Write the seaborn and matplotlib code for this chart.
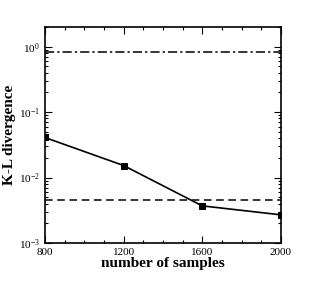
import matplotlib
matplotlib.use("Agg")
import matplotlib.pyplot as plt
import matplotlib.ticker as mticker
import pandas as pd
import seaborn as sns

# values
samples = [800, 1200, 1600, 2000]
kl_div = [0.041, 0.0153, 0.0037, 0.0027]
dashed_level = 0.0046
dashdot_level = 0.84

sns.set_style("ticks")
plt.rcParams['font.family'] = ['Liberation Serif', 'DejaVu Serif']
plt.rcParams['mathtext.fontset'] = 'stix'
plt.rcParams['text.color'] = 'black'
plt.rcParams['axes.labelcolor'] = 'black'
plt.rcParams['xtick.color'] = 'black'
plt.rcParams['ytick.color'] = 'black'

df = pd.DataFrame({'samples': samples, 'kl': kl_div})

fig = plt.figure(figsize=(3.16, 2.81), dpi=100)
ax = fig.add_axes([0.142, 0.135, 0.747, 0.769])

sns.lineplot(data=df, x='samples', y='kl', marker='s', markersize=5,
             color='black', linewidth=1.2, markeredgecolor='black', ax=ax)
ax.axhline(dashed_level, color='black', linestyle=(0, (5, 3)), linewidth=1.1)
ax.axhline(dashdot_level, color='black', linestyle=(0, (6, 2, 1.5, 2)), linewidth=1.1)

ax.set_yscale('log')
ax.set_xlim(800, 2000)
ax.set_ylim(1e-3, 2.0)
ax.xaxis.set_major_locator(mticker.FixedLocator(samples))
ax.xaxis.set_minor_locator(mticker.MultipleLocator(100))
ax.yaxis.set_major_locator(mticker.LogLocator(base=10, numticks=10))
ax.yaxis.set_minor_locator(mticker.LogLocator(base=10, subs=range(2, 10), numticks=10))
ax.yaxis.set_minor_formatter(mticker.NullFormatter())

ax.tick_params(which='both', direction='in', top=True, right=True, labelsize=8, width=0.8,
               colors='black')
ax.tick_params(which='major', length=5)
ax.tick_params(which='minor', length=2.5)
for s in ax.spines.values():
    s.set_linewidth(1.2)
    s.set_color('black')

ax.set_xlabel('number of samples', fontsize=11, fontweight='bold', labelpad=0, color='black')
ax.set_ylabel('K-L divergence', fontsize=11, fontweight='bold', labelpad=2, color='black')

fig.savefig('out.png', dpi=100)
